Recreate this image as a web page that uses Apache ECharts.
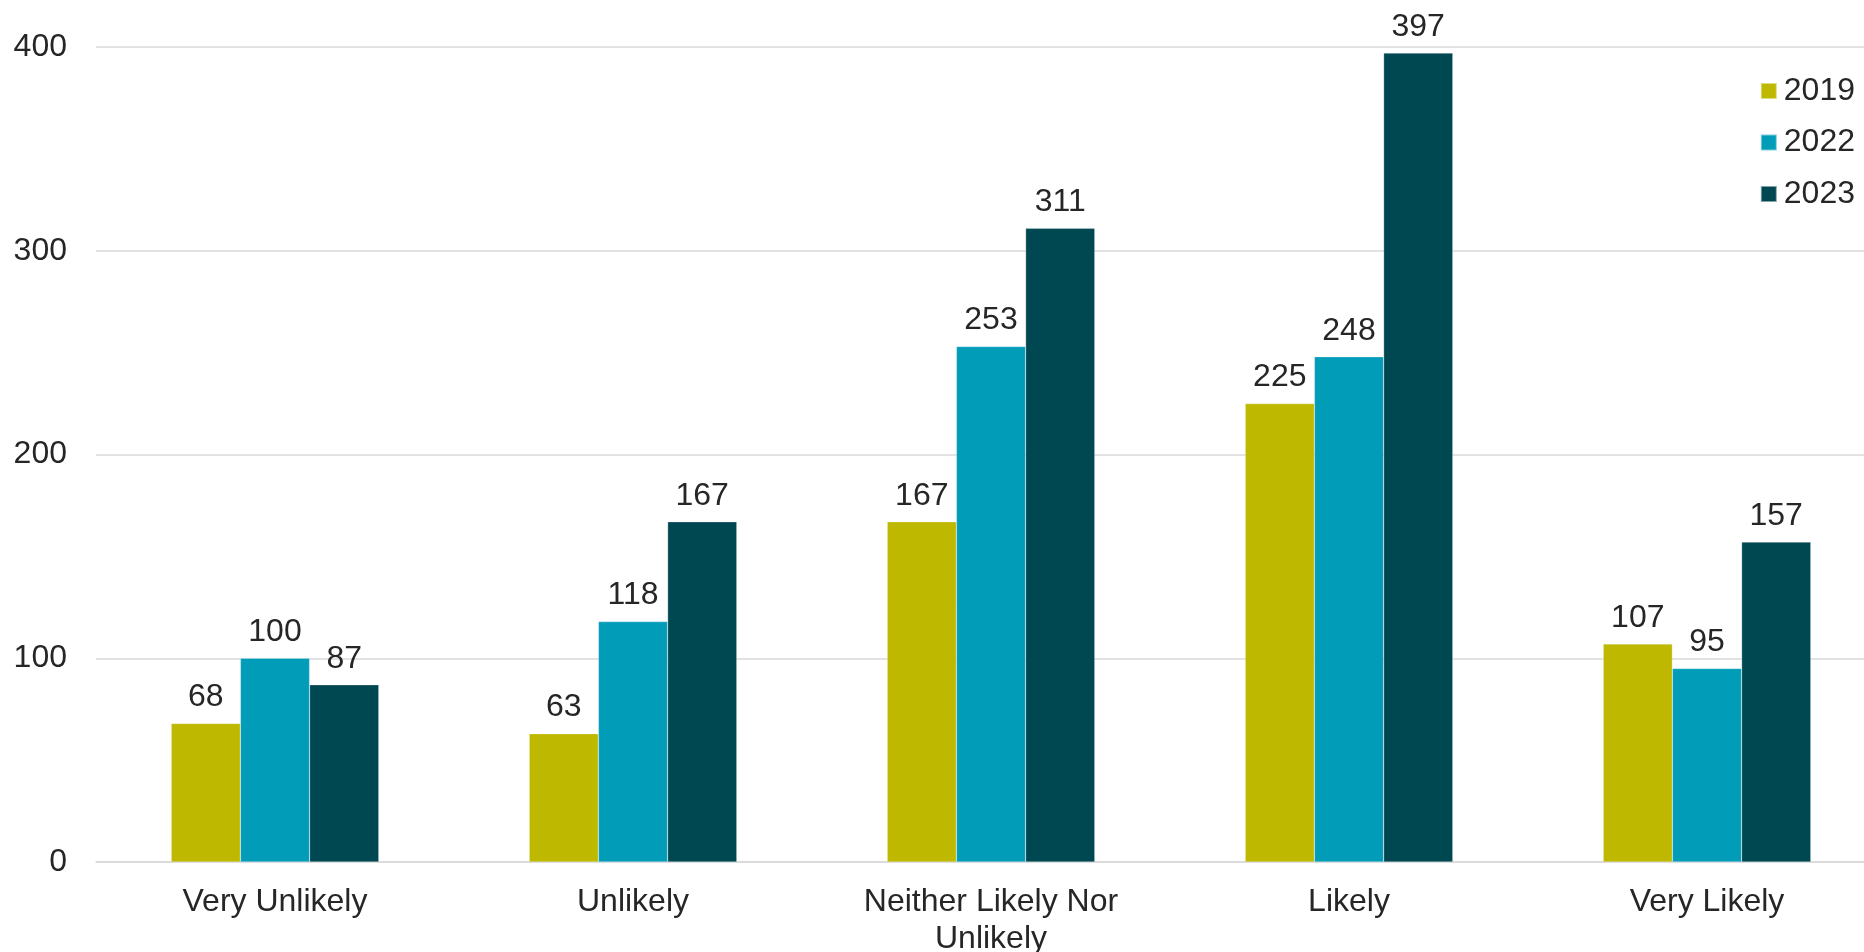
<!DOCTYPE html>
<html>
<head>
<meta charset="utf-8">
<script src="https://cdn.jsdelivr.net/npm/echarts@6/dist/echarts.min.js"></script>
<style>
html,body{margin:0;padding:0;background:#fff;}
#chart{width:1864px;height:952px;}
</style>
</head>
<body>
<div id="chart"></div>
<script>
var categories = ['Very Unlikely', 'Unlikely', 'Neither Likely Nor\nUnlikely', 'Likely', 'Very Likely'];
var seriesNames = ['2019', '2022', '2023'];
var values2019 = [68, 63, 167, 225, 107];
var values2022 = [100, 118, 253, 248, 95];
var values2023 = [87, 167, 311, 397, 157];
var yTicks = [0, 100, 200, 300, 400];
var colors = ['#BFB800', '#009CB8', '#004851'];

var font = '"Liberation Sans", Arial, sans-serif';
var textColor = '#262626';

var chart = echarts.init(document.getElementById('chart'), null, {renderer: 'canvas'});

function makeSeries(name, data, color) {
  return {
    name: name,
    type: 'bar',
    data: data,
    barGap: '0%',
    barCategoryGap: '42%',
    itemStyle: {color: color, borderColor: 'rgba(255,255,255,0.5)', borderWidth: 0.5},
    label: {
      show: true,
      position: 'top',
      distance: 10,
      color: textColor,
      fontFamily: font,
      fontSize: 32
    }
  };
}

chart.setOption({
  animation: false,
  backgroundColor: '#fff',
  color: colors,
  grid: {left: 96, width: 1790, top: 47, bottom: 90, containLabel: false, outerBoundsMode: 'none'},
  legend: {
    orient: 'vertical',
    right: 4,
    top: 70,
    itemWidth: 16,
    itemHeight: 16,
    itemGap: 19.5,
    icon: 'rect',
    textStyle: {color: textColor, fontFamily: font, fontSize: 32, padding: [0, 0, 0, 2]},
    data: seriesNames
  },
  xAxis: {
    type: 'category',
    data: categories,
    axisLine: {show: true, lineStyle: {color: '#d9d9d9', width: 1.5}},
    axisTick: {show: false},
    axisLabel: {
      color: textColor,
      fontFamily: font,
      fontSize: 32,
      lineHeight: 37,
      margin: 22,
      interval: 0
    }
  },
  yAxis: {
    type: 'value',
    min: yTicks[0],
    max: yTicks[yTicks.length - 1],
    interval: yTicks[1] - yTicks[0],
    axisLine: {show: false},
    axisTick: {show: false},
    splitLine: {lineStyle: {color: '#d9d9d9', width: 1.5}},
    axisLabel: {
      color: textColor,
      fontFamily: font,
      fontSize: 32,
      margin: 29
    }
  },
  series: [
    makeSeries(seriesNames[0], values2019, colors[0]),
    makeSeries(seriesNames[1], values2022, colors[1]),
    makeSeries(seriesNames[2], values2023, colors[2])
  ]
});
</script>
</body>
</html>
